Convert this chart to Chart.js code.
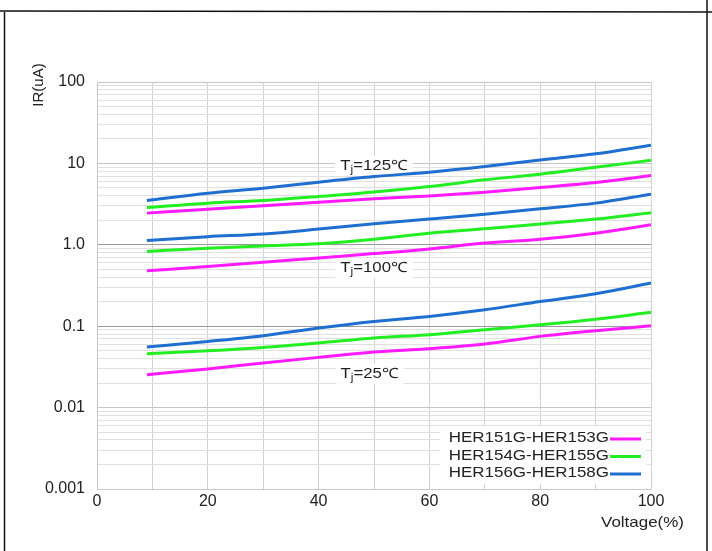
<!DOCTYPE html>
<html>
<head>
<meta charset="utf-8">
<script src="https://cdn.jsdelivr.net/npm/chart.js@4.4.1/dist/chart.umd.min.js"></script>
<style>
html, body { margin: 0; padding: 0; background: #fff; }
canvas { display: block; }
</style>
</head>
<body>
<canvas id="chart" width="712" height="551"></canvas>
<script>
// reverse current vs. applied voltage, three device groups at three junction temps
const voltage = [9, 20, 30, 40, 50, 60, 70, 80, 90, 100];

const her151_125 = [2.45, 2.74, 3.01, 3.34, 3.67, 3.99, 4.43, 5.05, 5.81, 7.08];
const her154_125 = [2.87, 3.25, 3.50, 3.92, 4.44, 5.19, 6.28, 7.37, 8.98, 10.9];
const her156_125 = [3.50, 4.31, 4.96, 5.88, 6.89, 7.80, 9.14, 11.0, 13.1, 16.7];

const her151_100 = [0.48, 0.54, 0.61, 0.69, 0.78, 0.89, 1.05, 1.17, 1.39, 1.76];
const her154_100 = [0.83, 0.91, 0.97, 1.03, 1.17, 1.39, 1.57, 1.80, 2.07, 2.47];
const her156_100 = [1.13, 1.26, 1.36, 1.56, 1.81, 2.07, 2.38, 2.77, 3.25, 4.19];

const her151_25 = [0.0254, 0.0298, 0.0353, 0.0414, 0.0482, 0.0530, 0.0605, 0.0750, 0.0881, 0.101];
const her154_25 = [0.0460, 0.0500, 0.0549, 0.0622, 0.0716, 0.0787, 0.0906, 0.104, 0.122, 0.148];
const her156_25 = [0.0556, 0.0650, 0.0764, 0.0951, 0.1145, 0.132, 0.159, 0.201, 0.251, 0.339];

const seriesNames = ['HER151G-HER153G', 'HER154G-HER155G', 'HER156G-HER158G'];
const seriesColors = ['#ff1aff', '#22ee22', '#1f6fd0'];

const yTickValues = [0.001, 0.01, 0.1, 1, 10, 100];
const yTickLabels = ['0.001', '0.01', '0.1', '1.0', '10', '100'];
const xTickLabels = ['0', '20', '40', '60', '80', '100'];

const tempLabels = ['125', '100', '25'];
const tempLabelX = [50, 50, 49.2];
const tempLabelY = [9.3, 0.52, 0.026];

const FONT = '"Liberation Sans", Arial, sans-serif';
const TEXT = '#222';

function series(values, idx) {
    return {
        label: seriesNames[idx],
        data: voltage.map((v, i) => ({ x: v, y: values[i] })),
        borderColor: seriesColors[idx],
        backgroundColor: seriesColors[idx],
        borderWidth: 3,
        pointRadius: 0,
        tension: 0.3,
        cubicInterpolationMode: 'monotone',
        fill: false
    };
}

function isDecade(v) {
    const l = Math.log10(v);
    return Math.abs(l - Math.round(l)) < 1e-6;
}

// text in the source is slightly stretched sideways
function stretchedText(ctx, text, x, y, align, sx) {
    const w = ctx.measureText(text).width * sx;
    let left = x;
    if (align === 'right') left = x - w;
    if (align === 'center') left = x - w / 2;
    ctx.save();
    ctx.translate(left, y);
    ctx.scale(sx, 1);
    ctx.textAlign = 'left';
    ctx.fillText(text, 0, 0);
    ctx.restore();
    return w;
}

const decor = {
    id: 'decor',
    beforeDatasetsDraw(chart) {
        const ctx = chart.ctx;
        const xs = chart.scales.x, ys = chart.scales.y;
        const sx = 1.2;
        ctx.save();
        ctx.textBaseline = 'middle';
        tempLabels.forEach((t, i) => {
            const px = xs.getPixelForValue(tempLabelX[i]);
            const py = ys.getPixelForValue(tempLabelY[i]);
            ctx.font = '14px ' + FONT;
            const wT = ctx.measureText('T').width;
            const rest = '=' + t + '\u2103';
            const wR = ctx.measureText(rest).width;
            ctx.font = '10px ' + FONT;
            const wj = ctx.measureText('j').width;
            const w = (wT + wj + wR) * sx;
            const left = px - w / 2;
            ctx.fillStyle = '#fff';
            ctx.fillRect(left - 5, py - 10, w + 10, 20);
            ctx.fillStyle = TEXT;
            ctx.save();
            ctx.translate(left, py);
            ctx.scale(sx, 1);
            ctx.font = '14px ' + FONT;
            ctx.fillText('T', 0, 0);
            ctx.font = '10px ' + FONT;
            ctx.fillText('j', wT, 4);
            ctx.font = '14px ' + FONT;
            ctx.fillText(rest, wT + wj, 0);
            ctx.restore();
        });
        ctx.restore();
    },
    afterDraw(chart) {
        const ctx = chart.ctx;
        ctx.save();

        // legend: name first, line sample after it
        ctx.fillStyle = '#fff';
        ctx.fillRect(440, 426, 206, 58);
        ctx.font = '14.5px ' + FONT;
        ctx.textBaseline = 'middle';
        seriesNames.forEach((name, i) => {
            const y = 438 + i * 17.5;
            ctx.fillStyle = TEXT;
            stretchedText(ctx, name, 609, y, 'right', 1.17);
            ctx.strokeStyle = seriesColors[i];
            ctx.lineWidth = 3;
            ctx.beginPath();
            ctx.moveTo(610, y + 1);
            ctx.lineTo(641, y + 1);
            ctx.stroke();
        });

        // axis titles
        ctx.fillStyle = TEXT;
        ctx.font = '14.5px ' + FONT;
        stretchedText(ctx, 'Voltage(%)', 684, 523, 'right', 1.17);
        ctx.save();
        ctx.translate(39, 85);
        ctx.rotate(-Math.PI / 2);
        ctx.font = '15px ' + FONT;
        ctx.textAlign = 'center';
        ctx.fillText('IR(uA)', 0, 0);
        ctx.restore();

        // page frame around the figure
        ctx.strokeStyle = '#111';
        ctx.lineWidth = 1.5;
        ctx.beginPath();
        ctx.moveTo(0, 11);
        ctx.lineTo(712, 12);
        ctx.moveTo(4.5, 12);
        ctx.lineTo(4.5, 551);
        ctx.moveTo(707, 0);
        ctx.lineTo(707, 551);
        ctx.stroke();
        ctx.restore();
    }
};

const chart = new Chart(document.getElementById('chart'), {
    type: 'line',
    data: {
        datasets: [
            series(her151_125, 0), series(her154_125, 1), series(her156_125, 2),
            series(her151_100, 0), series(her154_100, 1), series(her156_100, 2),
            series(her151_25, 0), series(her154_25, 1), series(her156_25, 2)
        ]
    },
    options: {
        responsive: false,
        animation: false,
        layout: { padding: { left: 0, top: 82, right: 61, bottom: 0 } },
        plugins: {
            legend: { display: false },
            tooltip: { enabled: false }
        },
        scales: {
            x: {
                type: 'linear',
                min: 0,
                max: 100,
                afterFit(scale) { scale.height = 62; },
                grid: { color: '#d2d2d2', lineWidth: 1, drawTicks: false },
                border: { color: '#c8c8c8' },
                ticks: {
                    stepSize: 10,
                    autoSkip: false,
                    maxRotation: 0,
                    padding: 3,
                    color: TEXT,
                    font: { family: FONT, size: 16 },
                    callback: value => xTickLabels.includes(String(value)) ? String(value) : ''
                }
            },
            y: {
                type: 'logarithmic',
                min: 0.001,
                max: 100,
                afterFit(scale) { scale.width = 97; },
                afterBuildTicks(scale) {
                    const ticks = [];
                    yTickValues.forEach((d, i) => {
                        if (i === yTickValues.length - 1) {
                            ticks.push({ value: d });
                            return;
                        }
                        for (let k = 1; k < 10; k++) ticks.push({ value: +(d * k).toPrecision(6) });
                    });
                    scale.ticks = ticks;
                },
                grid: {
                    drawTicks: false,
                    lineWidth: 1,
                    color: ctx => {
                        const v = ctx.tick ? ctx.tick.value : 0;
                        if (!isDecade(v)) return '#e0e0e0';
                        if (Math.abs(v - 1) < 1e-9 || Math.abs(v - 0.1) < 1e-9) return '#9a9a9a';
                        return '#c6c6c6';
                    }
                },
                border: { color: '#c8c8c8' },
                ticks: {
                    autoSkip: false,
                    padding: 12,
                    color: TEXT,
                    font: { family: FONT, size: 16 },
                    callback: value => {
                        const i = yTickValues.findIndex(v => Math.abs(v - value) / v < 1e-6);
                        return i >= 0 ? yTickLabels[i] : '';
                    }
                }
            }
        }
    },
    plugins: [decor]
});
</script>
</body>
</html>
